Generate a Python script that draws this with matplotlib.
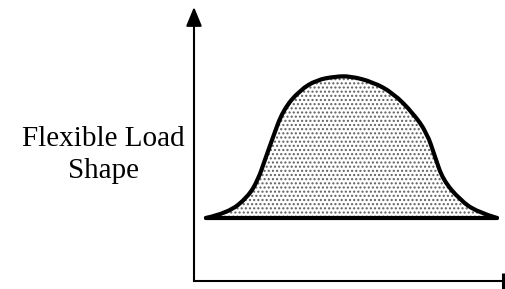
import matplotlib.pyplot as plt
from matplotlib.path import Path
from matplotlib.patches import PathPatch

# load shape (hour of day, load in % of axis height)
hours = [0.93, 2.64, 4.19, 4.97, 5.51, 6.06, 6.91, 8.23, 9.55, 10.95, 12.12,
         13.90, 15.46, 17.01, 18.10, 18.72, 19.34, 20.66, 21.98, 23.53]
load = [23.0, 24.8, 30.7, 36.9, 44.2, 51.5, 62.4, 69.7, 73.4, 74.6, 74.8,
        72.6, 68.6, 61.3, 54.0, 45.3, 36.9, 29.6, 25.2, 23.0]
base_load = 23.0
label = "Flexible Load\nShape"


def smooth_path(xs, ys, close=False):
    # quadratic bezier through midpoints, read points act as control points
    pts = list(zip(xs, ys))
    verts = [pts[0]]
    codes = [Path.MOVETO]
    for i in range(1, len(pts) - 1):
        end = pts[i + 1] if i == len(pts) - 2 else ((pts[i][0] + pts[i + 1][0]) / 2,
                                                     (pts[i][1] + pts[i + 1][1]) / 2)
        verts += [pts[i], end]
        codes += [Path.CURVE3, Path.CURVE3]
    if close:
        verts += [pts[0]]
        codes += [Path.CLOSEPOLY]
    return Path(verts, codes)


W, H = 506, 289
fig = plt.figure(figsize=(W / 100, H / 100), dpi=100)
ax = fig.add_axes([194 / W, 8 / H, 309 / W, 274 / H])
ax.set_xlim(0, 24)
ax.set_ylim(0, 100)

# dotted fill under the curve
ax.add_patch(PathPatch(smooth_path(hours, load, close=True), facecolor="white",
                       edgecolor="#606060", hatch="....", linewidth=0))
ax.add_patch(PathPatch(smooth_path(hours, load), facecolor="none", edgecolor="black",
                       lw=3.0, capstyle="round", joinstyle="round"))
ax.plot([hours[0], hours[-1]], [base_load, base_load], color="black", lw=3.0,
        solid_capstyle="round")

# axes: arrow on y, end tick on x
for s in ["top", "right", "left"]:
    ax.spines[s].set_visible(False)
ax.spines["bottom"].set_linewidth(1.5)
ax.annotate("", xy=(0, 100), xytext=(0, 0), xycoords="data",
            arrowprops=dict(arrowstyle="-|>,head_length=0.58,head_width=0.24",
                            mutation_scale=20, lw=1.5, color="black",
                            shrinkA=0, shrinkB=0),
            annotation_clip=False)
ax.plot(24, 0, marker="|", ms=11.5, mew=2.2, color="black", clip_on=False)
ax.set_xticks([])
ax.set_yticks([])

fig.text(103.5 / W, 1 - 155 / H, label, ha="center", va="center",
         family="Liberation Serif", fontsize=21, linespacing=1.35)

fig.savefig("out.png", dpi=100)
